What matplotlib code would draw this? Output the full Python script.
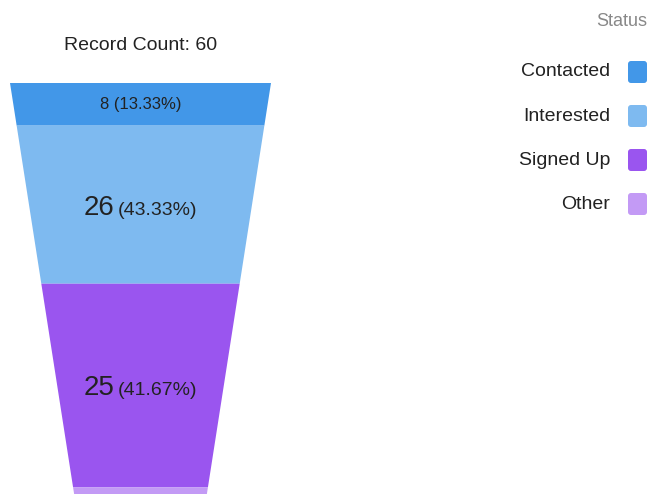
"""Lead status funnel: Record Count 60, segments sized by area."""
import matplotlib
matplotlib.use("Agg")
import matplotlib.pyplot as plt
from matplotlib.patches import Polygon, FancyBboxPatch
import numpy as np

plt.rcParams["font.family"] = ["Liberation Sans", "DejaVu Sans"]

statuses = ["Contacted", "Interested", "Signed Up", "Other"]
counts = [8, 26, 25, 1]
colors = ["#4297E8", "#7EBAF0", "#9A55EF", "#C39AF5"]
total = sum(counts)

# funnel geometry in pixel units
TOP_Y, TOP_L, TOP_R = 83, 10, 271
SLOPE = 0.156          # inward shift of each side per pixel down
UNIT_AREA = 1356.0     # px^2 per record


def width_at(y):
    return (TOP_R - TOP_L) - 2 * SLOPE * (y - TOP_Y)


def bottom_for_area(y0, area):
    # solve  w0*h - SLOPE*h^2 = area  for h
    w0 = width_at(y0)
    h = (w0 - np.sqrt(w0 ** 2 - 4 * SLOPE * area)) / (2 * SLOPE)
    return y0 + h


fig = plt.figure(figsize=(6.5, 4.94), dpi=100)
ax = fig.add_axes([0, 0, 1, 1])
ax.set_xlim(0, 650)
ax.set_ylim(494, 0)
ax.axis("off")

cx = (TOP_L + TOP_R) / 2
y = TOP_Y
centers = []
for n, c in zip(counts, colors):
    y1 = bottom_for_area(y, n * UNIT_AREA)
    w0, w1 = width_at(y), width_at(y1)
    poly = Polygon([(cx - w0 / 2, y), (cx + w0 / 2, y),
                    (cx + w1 / 2, y1), (cx - w1 / 2, y1)],
                   closed=True, facecolor=c, edgecolor="none")
    ax.add_patch(poly)
    centers.append((y + y1) / 2)
    y = y1

ax.text(cx, 46, f"Record Count: {total}", ha="center", va="center",
        fontsize=14, color="#222222")

# segment labels: big count + small percentage, centred together
fig.canvas.draw()
renderer = fig.canvas.get_renderer()
for i, (n, yc) in enumerate(zip(counts, centers)):
    pct = f"({n / total * 100:.2f}%)"
    if n / total < 0.05:
        continue  # sliver too thin for a label
    if n < 10:
        ax.text(cx, yc, f"{n} {pct}", ha="center", va="center",
                fontsize=12, color="#222222")
        continue
    t_num = ax.text(0, yc, f"{n}", ha="left", va="baseline",
                    fontsize=20, color="#222222")
    t_pct = ax.text(0, yc, pct, ha="left", va="baseline",
                    fontsize=14, color="#222222")
    wn = t_num.get_window_extent(renderer).width
    wp = t_pct.get_window_extent(renderer).width
    gap = 4
    x0 = cx - (wn + gap + wp) / 2
    base = yc + 10
    t_num.set_position((x0, base))
    t_pct.set_position((x0 + wn + gap, base))

# legend
ax.text(647, 22, "Status", ha="right", va="center", fontsize=13,
        color="#888888")
for i, (s, c) in enumerate(zip(statuses, colors)):
    ly = 72 + 44 * i
    ax.text(610, ly, s, ha="right", va="center", fontsize=14,
            color="#222222")
    box = FancyBboxPatch((628, ly - 11), 19, 22,
                         boxstyle="round,pad=0,rounding_size=3",
                         facecolor=c, edgecolor="none")
    ax.add_patch(box)

fig.savefig("out.png", dpi=100)
